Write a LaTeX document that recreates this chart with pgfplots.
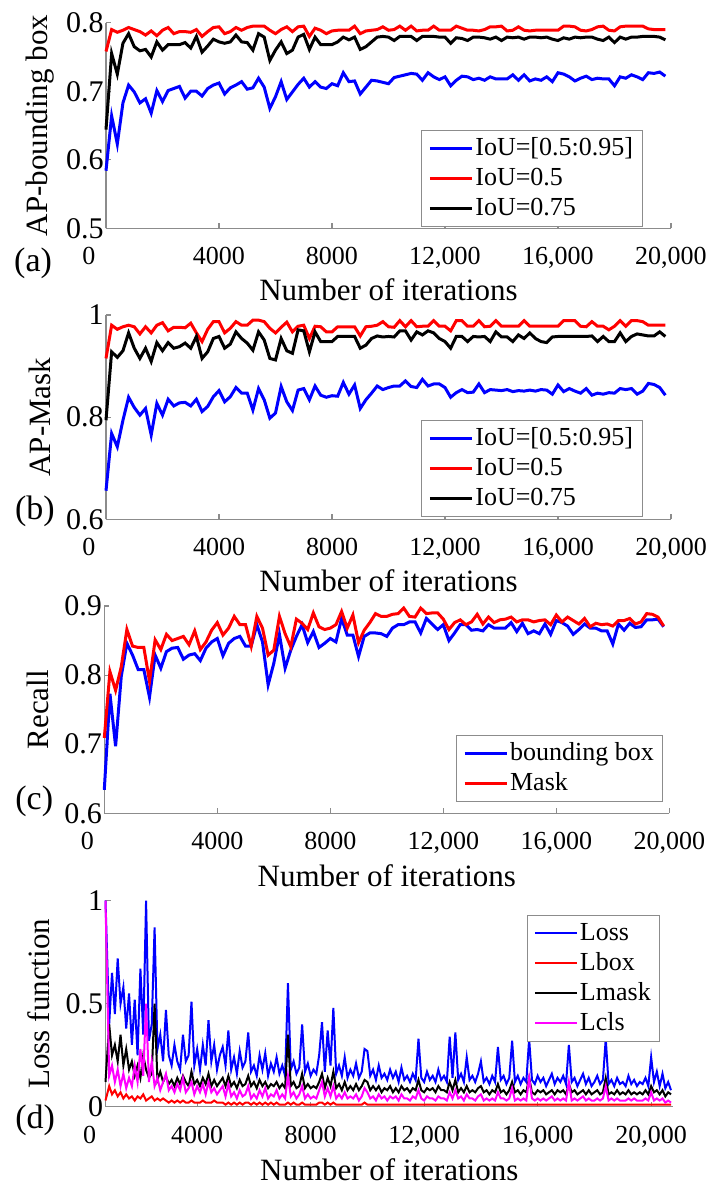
\documentclass[border=0pt]{standalone}
\usepackage{fontspec}
\setmainfont{Liberation Serif}
\usepackage{pgfplots}
\usepackage{pgfplotstable}
\pgfplotsset{compat=1.18}
\definecolor{mblue}{RGB}{0,0,255}
\definecolor{mred}{RGB}{255,0,0}
\definecolor{mmag}{RGB}{255,0,255}

\pgfplotstableread{
x b r k
0 0.584 0.758 0.644
200 0.664 0.790 0.755
400 0.623 0.786 0.725
600 0.683 0.789 0.770
800 0.709 0.793 0.784
1000 0.699 0.790 0.765
1200 0.683 0.787 0.759
1400 0.689 0.782 0.761
1600 0.668 0.788 0.750
1800 0.701 0.781 0.772
2000 0.685 0.789 0.760
2200 0.701 0.793 0.768
2400 0.704 0.784 0.768
2600 0.707 0.787 0.768
2800 0.690 0.787 0.771
3000 0.700 0.786 0.763
3200 0.700 0.790 0.780
3400 0.693 0.780 0.757
3600 0.704 0.787 0.766
3800 0.709 0.793 0.776
4000 0.712 0.794 0.772
4200 0.696 0.784 0.770
4400 0.705 0.787 0.772
4600 0.709 0.793 0.782
4800 0.714 0.789 0.772
5000 0.703 0.793 0.771
5200 0.705 0.795 0.760
5400 0.719 0.795 0.784
5600 0.706 0.795 0.779
5800 0.675 0.789 0.745
6000 0.692 0.784 0.760
6200 0.714 0.790 0.772
6400 0.688 0.794 0.755
6600 0.699 0.787 0.760
6800 0.710 0.794 0.779
7000 0.719 0.795 0.783
7200 0.706 0.780 0.761
7400 0.714 0.792 0.779
7600 0.706 0.789 0.768
7800 0.704 0.784 0.768
8000 0.711 0.788 0.768
8200 0.708 0.789 0.772
8400 0.727 0.789 0.779
8600 0.714 0.789 0.775
8800 0.715 0.795 0.779
9000 0.696 0.784 0.761
9200 0.706 0.788 0.765
9400 0.716 0.789 0.772
9600 0.715 0.790 0.779
9800 0.713 0.794 0.780
10000 0.711 0.789 0.779
10200 0.720 0.790 0.774
10400 0.722 0.795 0.780
10600 0.724 0.789 0.780
10800 0.726 0.795 0.780
11000 0.725 0.788 0.774
11200 0.716 0.789 0.780
11400 0.727 0.789 0.780
11600 0.721 0.795 0.780
11800 0.717 0.789 0.779
12000 0.721 0.789 0.779
12200 0.708 0.789 0.770
12400 0.716 0.795 0.778
12600 0.722 0.792 0.777
12800 0.721 0.789 0.774
13000 0.717 0.789 0.779
13200 0.719 0.788 0.779
13400 0.716 0.790 0.778
13600 0.721 0.794 0.776
13800 0.718 0.794 0.779
14000 0.718 0.795 0.774
14200 0.718 0.788 0.779
14400 0.724 0.789 0.778
14600 0.716 0.794 0.779
14800 0.724 0.789 0.776
15000 0.715 0.788 0.779
15200 0.718 0.789 0.779
15400 0.716 0.789 0.778
15600 0.721 0.789 0.779
15800 0.714 0.789 0.776
16000 0.727 0.789 0.774
16200 0.725 0.795 0.778
16400 0.721 0.795 0.776
16600 0.715 0.794 0.779
16800 0.719 0.789 0.778
17000 0.722 0.788 0.779
17200 0.717 0.790 0.779
17400 0.719 0.794 0.776
17600 0.718 0.795 0.774
17800 0.718 0.789 0.779
18000 0.708 0.788 0.771
18200 0.721 0.794 0.779
18400 0.719 0.795 0.776
18600 0.724 0.795 0.779
18800 0.721 0.795 0.779
19000 0.717 0.795 0.780
19200 0.727 0.791 0.780
19400 0.726 0.790 0.780
19600 0.728 0.790 0.779
19800 0.722 0.790 0.775
}\tabA

\pgfplotstableread{
x b r k
0 0.656 0.915 0.794
200 0.768 0.980 0.928
400 0.742 0.972 0.917
600 0.794 0.977 0.930
800 0.839 0.980 0.965
1000 0.819 0.977 0.935
1200 0.804 0.963 0.915
1400 0.817 0.977 0.935
1600 0.765 0.965 0.909
1800 0.827 0.980 0.946
2000 0.804 0.985 0.930
2200 0.835 0.969 0.946
2400 0.822 0.976 0.935
2600 0.828 0.976 0.938
2800 0.829 0.975 0.945
3000 0.822 0.984 0.935
3200 0.835 0.965 0.958
3400 0.811 0.948 0.915
3600 0.821 0.972 0.928
3800 0.840 0.987 0.954
4000 0.852 0.987 0.958
4200 0.830 0.965 0.935
4400 0.840 0.974 0.943
4600 0.858 0.987 0.967
4800 0.847 0.980 0.954
5000 0.847 0.980 0.945
5200 0.814 0.990 0.931
5400 0.856 0.990 0.967
5600 0.834 0.987 0.951
5800 0.798 0.974 0.915
6000 0.808 0.965 0.912
6200 0.860 0.976 0.954
6400 0.830 0.986 0.930
6600 0.813 0.967 0.925
6800 0.853 0.978 0.971
7000 0.856 0.980 0.969
7200 0.834 0.954 0.928
7400 0.861 0.978 0.967
7600 0.843 0.977 0.948
7800 0.839 0.967 0.948
8000 0.842 0.967 0.948
8200 0.841 0.977 0.958
8400 0.868 0.977 0.958
8600 0.845 0.977 0.958
8800 0.863 0.977 0.958
9000 0.817 0.959 0.935
9200 0.834 0.977 0.941
9400 0.847 0.978 0.954
9600 0.861 0.980 0.959
9800 0.854 0.987 0.957
10000 0.858 0.977 0.958
10200 0.861 0.976 0.957
10400 0.861 0.989 0.969
10600 0.871 0.977 0.969
10800 0.860 0.989 0.951
11000 0.858 0.977 0.967
11200 0.874 0.978 0.961
11400 0.861 0.978 0.969
11600 0.865 0.989 0.965
11800 0.865 0.978 0.954
12000 0.858 0.978 0.948
12200 0.839 0.969 0.935
12400 0.848 0.989 0.958
12600 0.854 0.989 0.958
12800 0.848 0.978 0.948
13000 0.849 0.978 0.958
13200 0.865 0.989 0.957
13400 0.848 0.977 0.958
13600 0.854 0.978 0.948
13800 0.853 0.989 0.967
14000 0.852 0.978 0.957
14200 0.854 0.978 0.957
14400 0.850 0.978 0.948
14600 0.852 0.978 0.961
14800 0.851 0.989 0.954
15000 0.853 0.978 0.965
15200 0.851 0.978 0.954
15400 0.854 0.978 0.948
15600 0.853 0.978 0.946
15800 0.845 0.978 0.957
16000 0.863 0.978 0.958
16200 0.850 0.989 0.958
16400 0.856 0.989 0.958
16600 0.851 0.989 0.958
16800 0.847 0.978 0.958
17000 0.856 0.977 0.958
17200 0.843 0.987 0.959
17400 0.847 0.978 0.948
17600 0.845 0.978 0.958
17800 0.848 0.971 0.948
18000 0.847 0.978 0.948
18200 0.856 0.989 0.965
18400 0.854 0.978 0.948
18600 0.856 0.989 0.958
18800 0.845 0.989 0.963
19000 0.851 0.987 0.961
19200 0.866 0.980 0.959
19400 0.864 0.980 0.959
19600 0.858 0.980 0.967
19800 0.843 0.980 0.958
}\tabB

\pgfplotstableread{
x b r
0 0.634 0.709
200 0.773 0.805
400 0.697 0.778
600 0.798 0.812
800 0.846 0.866
1000 0.829 0.842
1200 0.808 0.840
1400 0.808 0.840
1600 0.768 0.791
1800 0.829 0.851
2000 0.810 0.837
2200 0.834 0.859
2400 0.839 0.850
2600 0.840 0.853
2800 0.823 0.856
3000 0.829 0.844
3200 0.831 0.864
3400 0.821 0.837
3600 0.839 0.848
3800 0.848 0.865
4000 0.853 0.876
4200 0.828 0.858
4400 0.846 0.868
4600 0.853 0.885
4800 0.856 0.873
5000 0.842 0.873
5200 0.842 0.842
5400 0.873 0.885
5600 0.848 0.868
5800 0.786 0.829
6000 0.817 0.836
6200 0.859 0.885
6400 0.810 0.860
6600 0.836 0.841
6800 0.856 0.881
7000 0.873 0.875
7200 0.847 0.866
7400 0.863 0.890
7600 0.840 0.870
7800 0.846 0.866
8000 0.853 0.868
8200 0.848 0.873
8400 0.882 0.892
8600 0.858 0.868
8800 0.858 0.887
9000 0.827 0.847
9200 0.856 0.865
9400 0.861 0.876
9600 0.861 0.889
9800 0.860 0.885
10000 0.856 0.885
10200 0.868 0.888
10400 0.873 0.889
10600 0.873 0.897
10800 0.877 0.885
11000 0.877 0.884
11200 0.861 0.897
11400 0.882 0.889
11600 0.874 0.890
11800 0.866 0.890
12000 0.873 0.881
12200 0.850 0.866
12400 0.861 0.876
12600 0.873 0.880
12800 0.873 0.873
13000 0.865 0.877
13200 0.866 0.888
13400 0.864 0.874
13600 0.873 0.884
13800 0.868 0.876
14000 0.868 0.880
14200 0.868 0.881
14400 0.876 0.884
14600 0.863 0.877
14800 0.875 0.880
15000 0.860 0.880
15200 0.864 0.877
15400 0.860 0.879
15600 0.874 0.880
15800 0.859 0.873
16000 0.879 0.887
16200 0.876 0.877
16400 0.871 0.884
16600 0.859 0.879
16800 0.866 0.874
17000 0.874 0.882
17200 0.868 0.870
17400 0.868 0.875
17600 0.864 0.873
17800 0.864 0.874
18000 0.845 0.871
18200 0.874 0.879
18400 0.865 0.879
18600 0.875 0.882
18800 0.869 0.874
19000 0.870 0.877
19200 0.880 0.889
19400 0.880 0.888
19600 0.881 0.884
19800 0.870 0.871
}\tabC

\pgfplotstableread{
x loss box mask cls
770 1.00 0.03 0.12 1.00
900 0.40 0.10 0.40 0.15
1000 0.65 0.06 0.25 0.20
1100 0.45 0.08 0.30 0.12
1200 0.72 0.05 0.22 0.18
1300 0.50 0.07 0.35 0.10
1400 0.58 0.04 0.20 0.16
1500 0.38 0.06 0.28 0.09
1600 0.55 0.04 0.18 0.14
1700 0.30 0.05 0.22 0.10
1800 0.52 0.03 0.15 0.20
1900 0.25 0.05 0.20 0.12
2000 0.67 0.04 0.14 0.28
2100 0.35 0.06 0.25 0.15
2200 1.00 0.03 0.18 0.50
2300 0.32 0.04 0.14 0.12
2400 0.40 0.05 0.16 0.22
2500 0.87 0.03 0.50 0.10
2600 0.28 0.04 0.13 0.14
2700 0.35 0.03 0.17 0.08
2800 0.22 0.04 0.12 0.12
2900 0.47 0.03 0.15 0.16
3000 0.25 0.02 0.11 0.08
3100 0.20 0.03 0.13 0.10
3200 0.30 0.02 0.10 0.07
3300 0.22 0.03 0.14 0.11
3400 0.18 0.02 0.11 0.08
3500 0.35 0.03 0.15 0.14
3600 0.22 0.02 0.12 0.07
3700 0.25 0.02 0.10 0.09
3800 0.51 0.03 0.17 0.12
3900 0.20 0.02 0.11 0.06
4000 0.28 0.02 0.13 0.10
4100 0.18 0.02 0.10 0.07
4200 0.30 0.03 0.14 0.11
4300 0.20 0.02 0.11 0.06
4400 0.42 0.02 0.16 0.12
4500 0.22 0.02 0.10 0.07
4600 0.30 0.03 0.13 0.09
4700 0.18 0.02 0.10 0.06
4800 0.25 0.02 0.12 0.08
4900 0.29 0.02 0.14 0.10
5000 0.20 0.01 0.10 0.05
5100 0.37 0.02 0.15 0.11
5200 0.18 0.01 0.10 0.05
5300 0.24 0.02 0.12 0.07
5400 0.16 0.01 0.09 0.04
5500 0.27 0.02 0.13 0.08
5600 0.19 0.01 0.10 0.05
5700 0.22 0.02 0.11 0.06
5800 0.36 0.02 0.15 0.10
5900 0.17 0.01 0.10 0.04
6000 0.20 0.02 0.12 0.06
6100 0.15 0.01 0.09 0.04
6200 0.25 0.02 0.13 0.08
6300 0.18 0.01 0.10 0.05
6400 0.26 0.02 0.12 0.09
6500 0.15 0.01 0.09 0.04
6600 0.21 0.02 0.11 0.06
6700 0.17 0.01 0.10 0.05
6800 0.24 0.02 0.12 0.08
6900 0.16 0.01 0.09 0.04
7000 0.20 0.01 0.11 0.06
7100 0.15 0.01 0.09 0.04
7200 0.60 0.02 0.35 0.15
7300 0.18 0.01 0.10 0.05
7400 0.22 0.02 0.12 0.07
7500 0.16 0.01 0.09 0.04
7600 0.19 0.01 0.10 0.06
7700 0.40 0.02 0.16 0.10
7800 0.17 0.01 0.09 0.04
7900 0.21 0.01 0.11 0.06
8000 0.15 0.01 0.09 0.04
8100 0.18 0.01 0.10 0.05
8200 0.16 0.01 0.09 0.04
8300 0.25 0.02 0.12 0.08
8400 0.41 0.02 0.16 0.12
8500 0.17 0.01 0.09 0.05
8600 0.37 0.02 0.14 0.09
8700 0.20 0.01 0.10 0.05
8800 0.48 0.02 0.17 0.10
8900 0.16 0.01 0.09 0.04
9000 0.20 0.01 0.11 0.06
9100 0.15 0.01 0.08 0.04
9200 0.24 0.01 0.12 0.07
9300 0.14 0.01 0.08 0.04
9400 0.18 0.01 0.10 0.05
9500 0.15 0.01 0.08 0.04
9600 0.21 0.01 0.11 0.06
9700 0.14 0.01 0.08 0.03
9800 0.17 0.01 0.10 0.05
9900 0.28 0.02 0.13 0.09
10000 0.27 0.01 0.12 0.07
10100 0.15 0.01 0.08 0.04
10200 0.18 0.01 0.10 0.05
10300 0.13 0.01 0.08 0.03
10400 0.20 0.01 0.10 0.06
10500 0.14 0.01 0.07 0.04
10600 0.16 0.01 0.09 0.05
10700 0.13 0.01 0.08 0.03
10800 0.18 0.01 0.10 0.05
10900 0.14 0.01 0.07 0.04
11000 0.17 0.01 0.09 0.05
11100 0.12 0.01 0.07 0.03
11200 0.19 0.01 0.10 0.06
11300 0.13 0.01 0.08 0.04
11400 0.15 0.01 0.09 0.04
11500 0.12 0.01 0.07 0.03
11600 0.16 0.01 0.09 0.05
11700 0.13 0.01 0.08 0.04
11800 0.33 0.01 0.13 0.08
11900 0.14 0.01 0.08 0.04
12000 0.12 0.01 0.07 0.03
12100 0.17 0.01 0.09 0.05
12200 0.13 0.01 0.08 0.04
12300 0.15 0.01 0.09 0.04
12400 0.12 0.01 0.07 0.03
12500 0.18 0.01 0.10 0.05
12600 0.13 0.01 0.08 0.04
12700 0.15 0.01 0.08 0.04
12800 0.12 0.01 0.07 0.03
12900 0.34 0.01 0.12 0.07
13000 0.14 0.01 0.08 0.04
13100 0.36 0.01 0.13 0.08
13200 0.13 0.01 0.07 0.04
13300 0.16 0.01 0.09 0.05
13400 0.12 0.01 0.07 0.03
13500 0.24 0.01 0.10 0.06
13600 0.13 0.01 0.07 0.04
13700 0.15 0.01 0.08 0.04
13800 0.12 0.01 0.07 0.03
13900 0.16 0.01 0.09 0.05
14000 0.22 0.01 0.10 0.06
14100 0.12 0.01 0.07 0.03
14200 0.14 0.01 0.08 0.04
14300 0.11 0.01 0.06 0.03
14400 0.15 0.01 0.08 0.04
14500 0.12 0.01 0.07 0.03
14600 0.29 0.01 0.11 0.07
14700 0.13 0.01 0.07 0.04
14800 0.15 0.01 0.08 0.04
14900 0.11 0.01 0.06 0.03
15000 0.14 0.01 0.08 0.04
15100 0.32 0.01 0.12 0.09
15200 0.12 0.01 0.07 0.03
15300 0.15 0.01 0.08 0.04
15400 0.11 0.01 0.06 0.03
15500 0.14 0.01 0.08 0.04
15600 0.12 0.01 0.07 0.03
15700 0.33 0.01 0.14 0.14
15800 0.13 0.01 0.07 0.04
15900 0.11 0.01 0.06 0.03
16000 0.15 0.01 0.08 0.04
16100 0.12 0.01 0.07 0.03
16200 0.14 0.01 0.08 0.04
16300 0.10 0.01 0.06 0.03
16400 0.13 0.01 0.07 0.04
16500 0.16 0.01 0.08 0.05
16600 0.11 0.01 0.06 0.03
16700 0.14 0.01 0.08 0.04
16800 0.12 0.01 0.07 0.03
16900 0.15 0.01 0.08 0.04
17000 0.11 0.01 0.06 0.03
17100 0.30 0.01 0.11 0.12
17200 0.12 0.01 0.07 0.03
17300 0.14 0.01 0.08 0.04
17400 0.10 0.01 0.06 0.03
17500 0.13 0.01 0.07 0.04
17600 0.16 0.01 0.08 0.05
17700 0.11 0.01 0.06 0.03
17800 0.14 0.01 0.08 0.04
17900 0.10 0.01 0.06 0.03
18000 0.12 0.01 0.07 0.03
18100 0.15 0.01 0.08 0.04
18200 0.11 0.01 0.06 0.03
18300 0.13 0.01 0.07 0.04
18400 0.33 0.01 0.14 0.10
18500 0.11 0.01 0.06 0.03
18600 0.13 0.01 0.07 0.04
18700 0.10 0.01 0.06 0.03
18800 0.14 0.01 0.08 0.04
18900 0.11 0.01 0.06 0.03
19000 0.12 0.01 0.07 0.03
19100 0.10 0.01 0.06 0.03
19200 0.15 0.01 0.08 0.04
19300 0.11 0.01 0.06 0.03
19400 0.13 0.01 0.07 0.04
19500 0.10 0.01 0.06 0.03
19600 0.12 0.01 0.07 0.03
19700 0.11 0.01 0.06 0.03
19800 0.14 0.01 0.08 0.04
19900 0.10 0.01 0.06 0.03
20000 0.24 0.01 0.10 0.07
20100 0.12 0.01 0.07 0.03
20200 0.17 0.01 0.08 0.04
20300 0.10 0.01 0.06 0.03
20400 0.16 0.01 0.08 0.04
20500 0.09 0.01 0.05 0.02
20600 0.12 0.01 0.07 0.03
20700 0.08 0.01 0.06 0.02
}\tabD

\tikzset{plab/.style={font=\fontsize{17}{17}\selectfont}}
\pgfplotsset{
  panel/.style={
    scale only axis, width=282.5pt, clip=false,
    axis x line*=bottom, axis y line*=left,
    axis line style={black!45, line width=0.6pt},
    tick style={black!45, line width=0.6pt},
    tick align=inside, major tick length=2.5pt,
    scaled x ticks=false, scaled y ticks=false,
    xmin=0, xmax=20000,
    xtick={0,4000,8000,12000,16000,20000},
    xticklabels={\makebox[0pt][r]{0\hspace{5.25pt}},4000,8000,{12,000},{16,000},{20,000}},
    x tick label style={font=\fontsize{13}{13}\selectfont, yshift=-6pt},
    y tick label style={font=\fontsize{15}{15}\selectfont, inner xsep=1pt},
    xlabel={Number of iterations},
    xlabel style={font=\fontsize{15.5}{15.5}\selectfont, at={(axis description cs:0.5,-0.30)}, anchor=center},
    ylabel style={font=\fontsize{15.5}{15.5}\selectfont, at={(axis description cs:-0.117,0.5)}, anchor=center},
    legend cell align=left,
    legend style={draw=black!45, fill=white, font=\fontsize{13}{13}\selectfont, anchor=north west,
      inner xsep=3.5pt, inner ysep=1.5pt,
      nodes={inner sep=1pt, text height=10pt, text depth=3pt}, row sep=0pt},
    legend image code/.code={\draw[##1] (0pt,0pt) -- (21pt,0pt);},
  },
}

\begin{document}
\begin{tikzpicture}
\useasboundingbox (0,0) rectangle (355pt,-592.5pt);

% (a)
\begin{axis}[panel, at={(53pt,-114.15pt)}, anchor=south west, height=102.8pt,
  ymin=0.5, ymax=0.8, ytick={0.5,0.6,0.7,0.8}, yticklabels={0.5,0.6,0.7,0.8},
  ylabel={AP-bounding box},
  legend style={at={(0.5575,0.478)}}]
\addplot[mblue, line width=1.5pt] table[x=x,y=b] {\tabA};
\addplot[mred, line width=1.5pt] table[x=x,y=r] {\tabA};
\addplot[black, line width=1.5pt] table[x=x,y=k] {\tabA};
\legend{{IoU=[0.5:0.95]},{IoU=0.5},{IoU=0.75}}
\node[plab] at (rel axis cs:-0.129,-0.169) {(a)};
\end{axis}

% (b)
\begin{axis}[panel, at={(53pt,-259.65pt)}, anchor=south west, height=102.15pt,
  ymin=0.6, ymax=1, ytick={0.6,0.8,1}, yticklabels={0.6,0.8,1},
  ylabel={AP-Mask},
  legend style={at={(0.5575,0.486)}}]
\addplot[mblue, line width=1.5pt] table[x=x,y=b] {\tabB};
\addplot[mred, line width=1.5pt] table[x=x,y=r] {\tabB};
\addplot[black, line width=1.5pt] table[x=x,y=k] {\tabB};
\legend{{IoU=[0.5:0.95]},{IoU=0.5},{IoU=0.75}}
\node[plab] at (rel axis cs:-0.1257,0.04) {(b)};
\end{axis}

% (c)
\begin{axis}[panel, at={(52.15pt,-406.65pt)}, anchor=south west, height=103.65pt,
  ymin=0.6, ymax=0.9, ytick={0.6,0.7,0.8,0.9}, yticklabels={0.6,0.7,0.8,0.9},
  ylabel={Recall},
  legend style={at={(0.622,0.378)}}]
\addplot[mblue, line width=1.5pt] table[x=x,y=b] {\tabC};
\addplot[mred, line width=1.5pt] table[x=x,y=r] {\tabC};
\legend{{bounding box},{Mask}}
\node[plab] at (rel axis cs:-0.124,0.056) {(c)};
\end{axis}

% (d)
\begin{axis}[panel, at={(52.75pt,-553.35pt)}, anchor=south west, height=103pt, width=283.75pt,
  xmin=770, xmax=20770,
  xtick={770,4000,8000,12000,16000,20000},
  xticklabels={\makebox[0pt][r]{0\hspace{4.65pt}},4000,8000,{12,000},{16,000},{20,000}},
  xlabel style={at={(axis description cs:0.5,-0.305)}},
  ymin=0, ymax=1, ytick={0,0.5,1}, yticklabels={0,0.5,1},
  ylabel={Loss function},
  legend style={at={(0.742,0.931)}}]
\addplot[mblue, line width=1pt] table[x=x,y=loss] {\tabD};
\addplot[mred, line width=1pt] table[x=x,y=box] {\tabD};
\addplot[black, line width=1pt] table[x=x,y=mask] {\tabD};
\addplot[mmag, line width=1pt] table[x=x,y=cls] {\tabD};
\legend{Loss,Lbox,Lmask,Lcls}
\node[plab] at (rel axis cs:-0.124,-0.065) {(d)};
\end{axis}
\end{tikzpicture}
\end{document}
